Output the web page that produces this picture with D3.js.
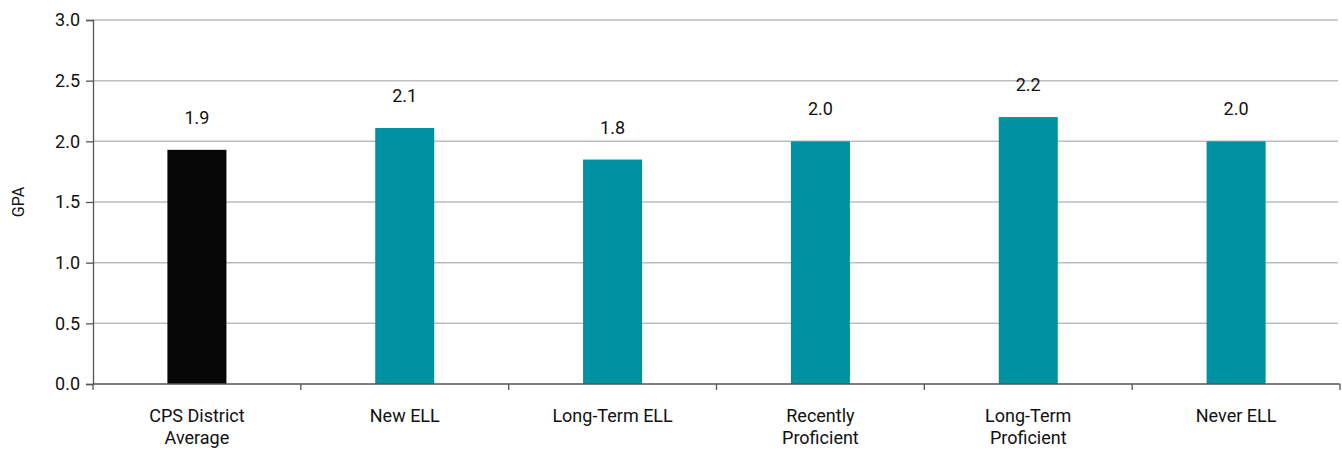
<!DOCTYPE html>
<html><head><meta charset="utf-8">
<script src="https://cdn.jsdelivr.net/npm/d3@7"></script>
<style>
html,body{margin:0;padding:0;background:#fff;}
text{font-family:Roboto,"Liberation Sans",Arial,sans-serif;fill:#111;}
</style></head>
<body>
<svg id="chart" width="1342" height="452"></svg>
<script>
const categories = [["CPS District","Average"],["New ELL"],["Long-Term ELL"],["Recently","Proficient"],["Long-Term","Proficient"],["Never ELL"]];
const gpaValues = [1.93, 2.11, 1.85, 2.0, 2.2, 2.0];
const valueLabels = ["1.9","2.1","1.8","2.0","2.2","2.0"];
const yTicks = [0, 0.5, 1.0, 1.5, 2.0, 2.5, 3.0];
const barColors = ["#060606","#0092a0","#0092a0","#0092a0","#0092a0","#0092a0"];

const svg = d3.select("#chart");
const mLeft = 93, mRight = 1340, mTop = 20, mBottom = 384;
const keys = categories.map((c,i)=>i);
const x = d3.scaleBand().domain(keys).range([mLeft, mRight]).paddingInner(0.716).paddingOuter(0.358);
const xb = d3.scaleBand().domain(keys).range([mLeft, mRight]);
const y = d3.scaleLinear().domain([0, 3]).range([mBottom, mTop]);

// gridlines
svg.append("g").selectAll("line").data(yTicks.filter(d=>d>0)).join("line")
  .attr("x1", mLeft).attr("x2", 1338).attr("y1", d=>y(d)).attr("y2", d=>y(d))
  .attr("stroke", "#bdbdbd").attr("stroke-width", 1.5);

// bars
svg.append("g").selectAll("rect").data(gpaValues).join("rect")
  .attr("x", (d,i)=>x(i)).attr("width", x.bandwidth())
  .attr("y", d=>y(d)).attr("height", d=>mBottom - y(d))
  .attr("fill", (d,i)=>barColors[i]);

// value labels
svg.append("g").selectAll("text").data(gpaValues).join("text")
  .attr("x", (d,i)=>x(i)+x.bandwidth()/2).attr("y", d=>y(d)-26)
  .attr("text-anchor","middle").attr("font-size", 18)
  .text((d,i)=>valueLabels[i]);

// y axis
const yAxis = d3.axisLeft(y).tickValues(yTicks).tickFormat(d3.format(".1f")).tickSize(7).tickPadding(6);
const gy = svg.append("g").attr("transform", `translate(${mLeft},0)`).call(yAxis);
gy.select(".domain").attr("stroke","#555").attr("stroke-width",1.3);
gy.selectAll(".tick line").attr("stroke","#555").attr("stroke-width",1.3);
gy.selectAll(".tick text").attr("font-size",18).attr("fill","#111").style("font-family","Roboto,'Liberation Sans',Arial,sans-serif");

// x axis line and ticks at band boundaries
const boundaries = keys.map(i=>xb(i)).concat([mRight]);
svg.append("line").attr("x1", mLeft).attr("x2", mRight).attr("y1", mBottom).attr("y2", mBottom)
  .attr("stroke","#555").attr("stroke-width",1.5);
svg.append("g").selectAll("line").data(boundaries).join("line")
  .attr("x1", d=>d).attr("x2", d=>d).attr("y1", mBottom).attr("y2", mBottom+6)
  .attr("stroke","#555").attr("stroke-width",1.3);

// category labels
const cl = svg.append("g").selectAll("text").data(categories).join("text")
  .attr("x", (d,i)=>xb(i)+xb.bandwidth()/2).attr("y", 422)
  .attr("text-anchor","middle").attr("font-size",18);
cl.each(function(d,i){
  const t = d3.select(this);
  d.forEach((line,j)=>{
    t.append("tspan").attr("x", xb(i)+xb.bandwidth()/2).attr("dy", j===0?0:22).text(line);
  });
});

// y title
svg.append("text").attr("transform", `translate(24,${(mTop+mBottom)/2}) rotate(-90)`)
  .attr("text-anchor","middle").attr("font-size",16).text("GPA");
</script>
</body></html>
